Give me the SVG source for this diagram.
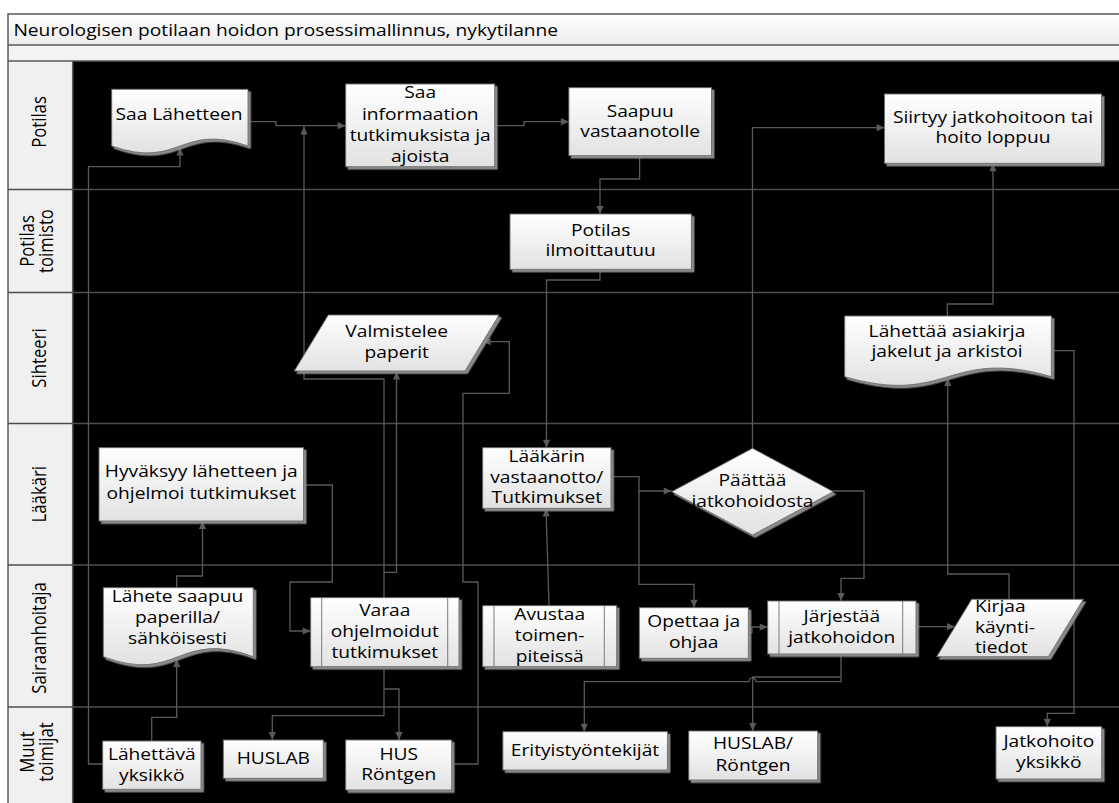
<svg xmlns="http://www.w3.org/2000/svg" width="1119" height="803" viewBox="0 0 1119 803">
<defs>
<linearGradient id="g" x1="0" y1="0" x2="0" y2="1"><stop offset="0" stop-color="#ffffff"/><stop offset="1" stop-color="#e2e2e2"/></linearGradient>
<linearGradient id="gt" x1="0" y1="0" x2="0" y2="1"><stop offset="0" stop-color="#ffffff"/><stop offset="1" stop-color="#ececec"/></linearGradient>
<filter id="sh" x="-10%" y="-10%" width="130%" height="140%"><feDropShadow dx="2.5" dy="2.5" stdDeviation="0.4" flood-color="#8a8a8a" flood-opacity="1"/></filter>
<marker id="ar" viewBox="0 0 10 10" refX="10" refY="5" markerWidth="9" markerHeight="8" markerUnits="userSpaceOnUse" orient="auto"><path d="M0,0.5 L10,5 L0,9.5 Z" fill="#5a5a5a"/></marker>
<style>
.nd{fill:url(#g);stroke:#6e6e6e;stroke-width:0.9;filter:url(#sh)}
.in{fill:none;stroke:#6e6e6e;stroke-width:0.9}
.t{font-family:"Open Sans","Noto Sans",sans-serif;font-size:16px;fill:#000;text-anchor:middle}
.ts{font-family:"Open Sans","Noto Sans",sans-serif;font-size:16px;fill:#000;text-anchor:start}
.lb{font-family:"Open Sans","Noto Sans",sans-serif;font-size:16.7px;fill:#000;text-anchor:middle}
.c{fill:none;stroke:#5a5a5a;stroke-width:1.3}
.a{marker-end:url(#ar)}
.ln{fill:none;stroke:#4d4d4d;stroke-width:1.3}
.fr{fill:none;stroke:#5a5a5a;stroke-width:1.5}
</style>
</defs>
<rect x="0" y="0" width="1119" height="803" fill="#ffffff"/>
<g id="frame">
<rect x="8" y="14" width="1112" height="31" fill="url(#gt)"/>
<rect x="8" y="45" width="1112" height="16" fill="#f3f3f3"/>
<rect x="8" y="61" width="64.7" height="742" fill="#f0f0f0"/>
<rect x="72.7" y="61" width="1047" height="742" fill="#000000"/>
<path class="fr" d="M8,803 V14 H1119 M8,45 H1119 M8,61 H1119 M72.7,61 V803"/>
<path class="ln" d="M8,189.5 H1119 M8,292.5 H1119 M8,423.5 H1119 M8,565 H1119 M8,707 H1119"/>
<text class="ts" transform="matrix(1.2 0 0 1 13.4 0)" x="0" y="36">Neurologisen potilaan hoidon prosessimallinnus, nykytilanne</text>
</g>
<g id="lanes">
<text class="lb" transform="matrix(0 -1 1.2 0 40.3 122)" x="0" y="5">Potilas</text>
<text class="lb" transform="matrix(0 -1 1.2 0 40.3 241)"><tspan x="0" y="-5">Potilas</tspan><tspan x="0" y="10.5">toimisto</tspan></text>
<text class="lb" transform="matrix(0 -1 1.2 0 40.3 358)" x="0" y="5">Sihteeri</text>
<text class="lb" transform="matrix(0 -1 1.2 0 40.3 494.2)" x="0" y="5">Lääkäri</text>
<text class="lb" transform="matrix(0 -1 1.2 0 40.3 638)" x="0" y="5">Sairaanhoitaja</text>
<text class="lb" transform="matrix(0 -1 1.2 0 40.3 752)"><tspan x="0" y="-5">Muut</tspan><tspan x="0" y="10.5">toimijat</tspan></text>
</g>
<g id="connectors">
<path class="c a" d="M248,121.7 H276 V125.7 H345.7"/>
<path class="c a" d="M384,597.7 V379 H304 V126.6"/>
<path class="c a" d="M384,572.3 H396.5 V371.5"/>
<path class="c a" d="M494.7,125.7 H524 V121.7 H568.9"/>
<path class="c a" d="M639.6,155.7 V179 H600 V214"/>
<path class="c a" d="M600,269.3 V280 H546.5 V447.7"/>
<path class="c a" d="M611,476.7 H639 V491 H671.7"/>
<path class="c a" d="M639,491 V584.3 H694 V607.7"/>
<path class="c a" d="M752.5,448.3 V127.7 H884.5"/>
<path class="c a" d="M833.3,491 H864 V578.3 H841 V601"/>
<path class="c a" d="M748.3,632.7 H752 V627 H767.7"/>
<path class="c a" d="M916,626.7 H955"/>
<path class="c a" d="M1009,599.3 V574 H947.7 V378"/>
<path class="c a" d="M947.3,316 V304 H993 V163.3"/>
<path class="c a" d="M1051.4,350.7 H1074 V713.3 H1047.3 V726.7"/>
<path class="c a" d="M841,654 V681.7 H756 A3.5,3.5 0 0 0 749,681.7 H584.3 V731.7"/>
<path class="c a" d="M841,677 H752.7 V731"/>
<path class="c a" d="M303.6,485 H332.3 V582 H290 V631 H310.7"/>
<path class="c a" d="M176.7,587.7 V576 H202.5 V521"/>
<path class="c a" d="M151.7,741 V717.3 H176.7 V659"/>
<path class="c a" d="M102.7,764 H88.5 V166.7 H180 V147.5"/>
<path class="c a" d="M384,666.7 V715.7 H272.3 V740"/>
<path class="c a" d="M384,689 H399 V740"/>
<path class="c a" d="M451.7,764 H478 V582 H463 V393.3 H509.3 V341.7 H482.7"/>
<path class="c a" d="M549,605.7 L546,508.3"/>
</g>
<g id="n_saa_lahetteen">
<path class="nd" d="M111.7,89.3 H248 V146 C180,122 180,170 111.7,146 Z"/>
<text class="t" transform="matrix(1.2 0 0 1 179 0)" x="0" y="120">Saa Lähetteen</text>
</g>
<g id="n_saa_informaation">
<rect class="nd" x="345.7" y="84" width="149" height="82.7"/>
<text class="t" transform="matrix(1.2 0 0 1 420.2 0)"><tspan x="0" y="98.5">Saa</tspan><tspan x="0" y="119.7">informaation</tspan><tspan x="0" y="140.9">tutkimuksista ja</tspan><tspan x="0" y="162.1">ajoista</tspan></text>
</g>
<g id="n_saapuu">
<rect class="nd" x="568.9" y="87.7" width="142.6" height="68"/>
<text class="t" transform="matrix(1.2 0 0 1 640.2 0)"><tspan x="0" y="116.7">Saapuu</tspan><tspan x="0" y="137.3">vastaanotolle</tspan></text>
</g>
<g id="n_siirtyy">
<rect class="nd" x="884.5" y="94" width="217" height="69.3"/>
<text class="t" transform="matrix(1.2 0 0 1 993 0)"><tspan x="0" y="123">Siirtyy jatkohoitoon tai</tspan><tspan x="0" y="143.3">hoito loppuu</tspan></text>
</g>
<g id="n_potilas_ilmoittautuu">
<rect class="nd" x="510" y="214" width="181.4" height="55.3"/>
<text class="t" transform="matrix(1.2 0 0 1 600.7 0)"><tspan x="0" y="235.7">Potilas</tspan><tspan x="0" y="256">ilmoittautuu</tspan></text>
</g>
<g id="n_valmistelee">
<path class="nd" d="M328.3,315 H499 L465,371 H294.3 Z"/>
<text class="t" transform="matrix(1.2 0 0 1 396.7 0)"><tspan x="0" y="336.7">Valmistelee</tspan><tspan x="0" y="357.7">paperit</tspan></text>
</g>
<g id="n_lahettaa_asiakirja">
<path class="nd" d="M844.7,316 H1051.4 V376.7 C948,346.7 948,406.7 844.7,376.7 Z"/>
<text class="t" transform="matrix(1.2 0 0 1 947 0)"><tspan x="0" y="336.7">Lähettää asiakirja</tspan><tspan x="0" y="357.3">jakelut ja arkistoi</tspan></text>
</g>
<g id="n_hyvaksyy">
<rect class="nd" x="99" y="447.7" width="204.6" height="73.3"/>
<text class="t" transform="matrix(1.2 0 0 1 201.3 0)"><tspan x="0" y="477">Hyväksyy lähetteen ja</tspan><tspan x="0" y="499">ohjelmoi tutkimukset</tspan></text>
</g>
<g id="n_laakarin">
<rect class="nd" x="482.7" y="447.7" width="128.3" height="60.6"/>
<text class="t" transform="matrix(1.2 0 0 1 546.8 0)"><tspan x="0" y="461.7">Lääkärin</tspan><tspan x="0" y="482.7">vastaanotto/</tspan><tspan x="0" y="502.7">Tutkimukset</tspan></text>
</g>
<g id="n_paattaa">
<path class="nd" d="M671.7,491.7 L752.5,448.3 L833.3,491.7 L752.5,535 Z"/>
<text class="t" transform="matrix(1.2 0 0 1 752.5 0)"><tspan x="0" y="486">Päättää</tspan><tspan x="0" y="507.3">jatkohoidosta</tspan></text>
</g>
<g id="n_lahete_saapuu">
<path class="nd" d="M103.3,587.7 H253.3 V656.7 C178.3,628.7 178.3,684.7 103.3,656.7 Z"/>
<text class="t" transform="matrix(1.2 0 0 1 177.5 0)"><tspan x="0" y="601.7">Lähete saapuu</tspan><tspan x="0" y="622.7">paperilla/</tspan><tspan x="0" y="644">sähköisesti</tspan></text>
</g>
<g id="n_varaa">
<rect class="nd" x="310.7" y="597.7" width="148.3" height="69"/>
<path class="in" d="M321.7,597.7 V666.7 M447.7,597.7 V666.7"/>
<text class="t" transform="matrix(1.2 0 0 1 384.8 0)"><tspan x="0" y="616">Varaa</tspan><tspan x="0" y="636.7">ohjelmoidut</tspan><tspan x="0" y="657.7">tutkimukset</tspan></text>
</g>
<g id="n_avustaa">
<rect class="nd" x="482.7" y="605.7" width="134" height="61"/>
<path class="in" d="M494,605.7 V666.7 M604.3,605.7 V666.7"/>
<text class="t" transform="matrix(1.2 0 0 1 549.7 0)"><tspan x="0" y="620">Avustaa</tspan><tspan x="0" y="641">toimen-</tspan><tspan x="0" y="661.7">piteissä</tspan></text>
</g>
<g id="n_opettaa">
<rect class="nd" x="639.3" y="607.7" width="109" height="50.6"/>
<text class="t" transform="matrix(1.2 0 0 1 693.8 0)"><tspan x="0" y="627.3">Opettaa ja</tspan><tspan x="0" y="647.7">ohjaa</tspan></text>
</g>
<g id="n_jarjestaa">
<rect class="nd" x="767.7" y="601" width="148.3" height="53"/>
<path class="in" d="M779,601 V654 M902.7,601 V654"/>
<text class="t" transform="matrix(1.2 0 0 1 841.8 0)"><tspan x="0" y="622.3">Järjestää</tspan><tspan x="0" y="642.7">jatkohoidon</tspan></text>
</g>
<g id="n_kirjaa">
<path class="nd" d="M971.7,599.3 H1083.3 L1048.3,656.7 H936.7 Z"/>
<text class="ts" transform="matrix(1.2 0 0 1 975 0)"><tspan x="0" y="611.7">Kirjaa</tspan><tspan x="0" y="633.3">käynti-</tspan><tspan x="0" y="653.3">tiedot</tspan></text>
</g>
<g id="n_lahettava">
<rect class="nd" x="102.7" y="741" width="98.3" height="48.3"/>
<text class="t" transform="matrix(1.2 0 0 1 151.8 0)"><tspan x="0" y="760">Lähettävä</tspan><tspan x="0" y="781">yksikkö</tspan></text>
</g>
<g id="n_huslab">
<rect class="nd" x="223.3" y="740" width="100" height="38.3"/>
<text class="t" transform="matrix(1.2 0 0 1 273.3 0)" x="0" y="764">HUSLAB</text>
</g>
<g id="n_hus_rontgen">
<rect class="nd" x="345.7" y="740" width="106" height="50"/>
<text class="t" transform="matrix(1.2 0 0 1 398.7 0)"><tspan x="0" y="760">HUS</tspan><tspan x="0" y="780">Röntgen</tspan></text>
</g>
<g id="n_erityis">
<rect class="nd" x="502.9" y="731.7" width="164.5" height="38.3"/>
<text class="t" transform="matrix(1.2 0 0 1 585 0)" x="0" y="755.7">Erityistyöntekijät</text>
</g>
<g id="n_huslab_rontgen">
<rect class="nd" x="688.8" y="731" width="128.9" height="49"/>
<text class="t" transform="matrix(1.2 0 0 1 753 0)"><tspan x="0" y="749.3">HUSLAB/</tspan><tspan x="0" y="770.7">Röntgen</tspan></text>
</g>
<g id="n_jatkohoito">
<rect class="nd" x="996" y="726.7" width="105.7" height="52.3"/>
<text class="t" transform="matrix(1.2 0 0 1 1048.8 0)"><tspan x="0" y="747.3">Jatkohoito</tspan><tspan x="0" y="767.7">yksikkö</tspan></text>
</g>
</svg>
